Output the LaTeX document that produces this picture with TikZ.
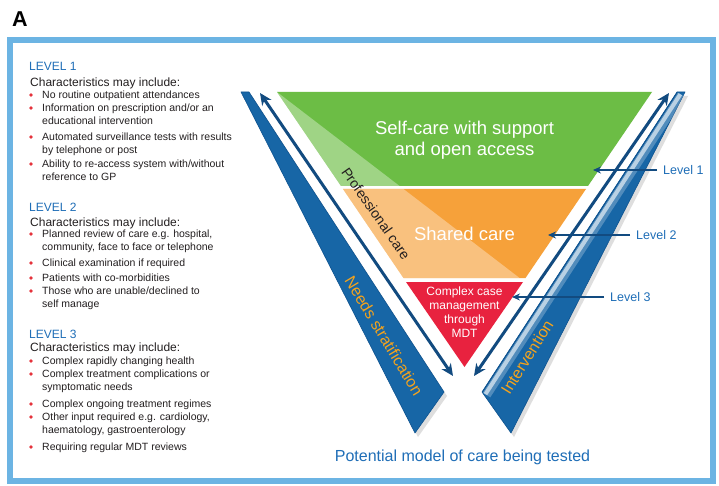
\documentclass[tikz,border=0pt]{standalone}
\usepackage{fontspec}
\setmainfont{Liberation Sans}
\usetikzlibrary{arrows.meta}
\definecolor{frameblue}{HTML}{6CB4E3}
\definecolor{headblue}{HTML}{1F6EB7}
\definecolor{txt}{HTML}{231F20}
\definecolor{bulletred}{HTML}{E5323B}
\definecolor{fgreen}{HTML}{6CBD45}
\definecolor{forange}{HTML}{F6A13A}
\definecolor{fred}{HTML}{E8223F}
\definecolor{bandblue}{HTML}{1766A6}
\definecolor{banddark}{HTML}{0E5390}
\definecolor{arrowblue}{HTML}{124B80}
\definecolor{labelorange}{HTML}{F5A31C}
\tikzset{
  heading/.style={anchor=west, inner sep=0, text=headblue, font=\fontsize{12}{14}\selectfont},
  charline/.style={anchor=north west, inner sep=0, text=txt, font=\fontsize{12}{14}\selectfont},
  itemtext/.style={anchor=north west, inner sep=0, text=txt, align=left, font=\fontsize{10.5}{13}\selectfont},
  bulletdot/.style={circle, fill=bulletred, inner sep=0, minimum size=3.8pt},
  levellabel/.style={anchor=west, inner sep=0, text=headblue, font=\fontsize{12.5}{15}\selectfont},
  levelarrow/.style={draw=arrowblue, line width=1.3pt, -{Stealth[length=8pt,width=7pt]}, shorten <=6pt},
  bigarrow/.style={draw=arrowblue, line width=3pt, {Stealth[length=12pt,width=11pt]}-{Stealth[length=12pt,width=11pt]}},
  bigwhite/.style={inner sep=0, text=white, align=center, font=\fontsize{18.5}{21}\selectfont},
  smallwhite/.style={inner sep=0, text=white, align=center, font=\fontsize{12}{14.2}\selectfont},
  bandtext/.style={inner sep=0, text=labelorange, font=\fontsize{16}{18}\selectfont},
  band/.style={fill=bandblue, draw=banddark, line width=0.6pt, line join=round},
}
\begin{document}
\begin{tikzpicture}[x=1pt,y=-1pt]
\useasboundingbox (0,0) rectangle (719,486);
\fill[white] (0,0) rectangle (719,486);

% panel letter and frame
\node[anchor=base west, inner sep=0, font=\fontsize{21.5}{24}\selectfont\bfseries] (letter) at (12,27) {A};
\draw[frameblue, line width=6pt] (10,40) rectangle (713,481);

% ---------------- left column ----------------
\node[heading] (h1) at (29,66.5) {LEVEL 1};
\node[charline] (c1) at (30,78) {Characteristics may include:};
\node[itemtext] (i11) at (42,91) {No routine outpatient attendances};
\node[itemtext] (i12) at (42,104) {Information on prescription and/or an\\educational intervention};
\node[itemtext] (i13) at (42,133) {Automated surveillance tests with results\\by telephone or post};
\node[itemtext] (i14) at (42,160) {Ability to re-access system with/without\\reference to GP};
\foreach \y in {95,108,137,164} \node[bulletdot] at (31,\y) {};

\node[heading] (h2) at (29,207.5) {LEVEL 2};
\node[charline] (c2) at (30,218) {Characteristics may include:};
\node[itemtext] (i21) at (42,230) {Planned review of care e.g. hospital,\\community, face to face or telephone};
\node[itemtext] (i22) at (42,259) {Clinical examination if required};
\node[itemtext] (i23) at (42,274) {Patients with co-morbidities};
\node[itemtext] (i24) at (42,287) {Those who are unable/declined to\\self manage};
\foreach \y in {234,263,278,291} \node[bulletdot] at (31,\y) {};

\node[heading] (h3) at (29,334.5) {LEVEL 3};
\node[charline] (c3) at (30,343) {Characteristics may include:};
\node[itemtext] (i31) at (42,357) {Complex rapidly changing health};
\node[itemtext] (i32) at (42,370) {Complex treatment complications or\\symptomatic needs};
\node[itemtext] (i33) at (42,400) {Complex ongoing treatment regimes};
\node[itemtext] (i34) at (42,413) {Other input required e.g. cardiology,\\haematology, gastroenterology};
\node[itemtext] (i35) at (42,443) {Requiring regular MDT reviews};
\foreach \y in {361,374,404,417,447} \node[bulletdot] at (31,\y) {};

% ---------------- side bands ----------------
\fill[black!25, opacity=0.5] (244,96) -- (252,96) -- (447,396) -- (418,437) -- cycle;
\fill[black!25, opacity=0.5] (688,96) -- (680,96) -- (485,396) -- (514,437) -- cycle;
\path[band] (241,92) -- (249,92) -- (444,392) -- (415,433) -- cycle;
\path[band] (685,92) -- (677,92) -- (482,392) -- (511,433) -- cycle;
% glossy highlight along the inner edge of the right band
\begin{scope}
  \clip (685,92) -- (677,92) -- (482,392) -- (511,433) -- cycle;
  \draw[white, line width=9pt, opacity=0.25] (681.5,94.9) -- (486.5,394.9);
  \draw[white, line width=4pt, opacity=0.6] (680.4,94.2) -- (485.4,394.2);
  \draw[banddark, line width=1.6pt] (677,92) -- (482,392);
\end{scope}

% ---------------- funnel ----------------
\fill[fgreen] (277,92) -- (652,92) -- (588,186) -- (341,186) -- cycle;
\fill[forange] (343,189) -- (586,189) -- (525.5,278) -- (403.5,278) -- cycle;
\fill[fred] (406,282) -- (523,282) -- (464.5,367) -- cycle;
\begin{scope}
  \clip (277,92) -- (652,92) -- (588,186) -- (341,186) -- cycle
        (343,189) -- (586,189) -- (525.5,278) -- (403.5,278) -- cycle;
  \fill[white, opacity=0.35] (277,92) -- (530,286) -- (250,286) -- (250,92) -- cycle;
\end{scope}

% funnel texts
\node[bigwhite, anchor=north] (selfcare) at (464.5,121) {Self-care with support\\and open access};
\node[bigwhite, anchor=base] (shared) at (464.5,240.5) {Shared care};
\node[smallwhite, anchor=north] (complex) at (464.5,286.5) {Complex case\\management\\through\\MDT};
\node[inner sep=0, text=txt, font=\fontsize{14}{16}\selectfont, rotate=-55] (prof) at (376,213.5) {Professional care};

% band texts
\node[bandtext, rotate=-59] (needs) at (384,336) {Needs stratification};
\node[bandtext, rotate=58] (interv) at (527,357) {Intervention};

% big double arrows
\coordinate (a1s) at (260,93);
\coordinate (a1e) at (453,376);
\coordinate (a2s) at (669,93);
\coordinate (a2e) at (474,376);
\draw[bigarrow] (a1s) -- (a1e);
\draw[bigarrow] (a2s) -- (a2e);

% level labels and arrows
\node[levellabel] (l1) at (663,170) {Level 1};
\node[levellabel] (l2) at (636,235) {Level 2};
\node[levellabel] (l3) at (610,297) {Level 3};
\coordinate (t1) at (593,170);
\coordinate (t2) at (548,235);
\coordinate (t3) at (512,297);
\draw[levelarrow] (l1.west) -- (t1);
\draw[levelarrow] (l2.west) -- (t2);
\draw[levelarrow] (l3.west) -- (t3);

% caption
\node[anchor=base, inner sep=0, text=headblue, font=\fontsize{16}{18}\selectfont] (caption) at (462.5,461.5) {Potential model of care being tested};
\end{tikzpicture}
\end{document}
